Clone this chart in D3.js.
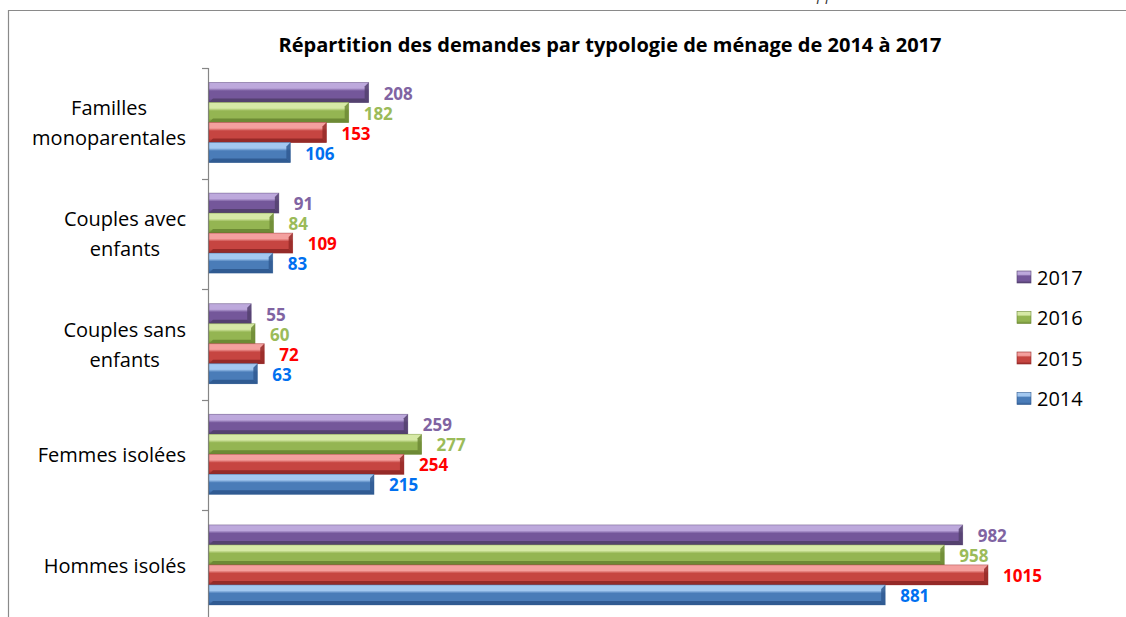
<!DOCTYPE html>
<html>
<head>
<meta charset="utf-8">
<script src="https://cdn.jsdelivr.net/npm/d3@7"></script>
<style>
  body { margin: 0; background: #fff; }
  svg { display: block; font-family: "Open Sans", sans-serif; }
</style>
</head>
<body>
<div id="chart"></div>
<script>
// data
const categories = ['Familles monoparentales', 'Couples avec enfants', 'Couples sans enfants', 'Femmes isolées', 'Hommes isolés'];
const categoryLines = [['Familles', 'monoparentales'], ['Couples avec', 'enfants'], ['Couples sans', 'enfants'], ['Femmes isolées'], ['Hommes isolés']];
const years = ['2017', '2016', '2015', '2014'];
const values2017 = [208, 91, 55, 259, 982];
const values2016 = [182, 84, 60, 277, 958];
const values2015 = [153, 109, 72, 254, 1015];
const values2014 = [106, 83, 63, 215, 881];
const seriesValues = { '2017': values2017, '2016': values2016, '2015': values2015, '2014': values2014 };

// colours: [light, body, dark, label]
const palette = {
  '2017': ['#bda8dc', '#74579a', '#54416f', '#8064a2'],
  '2016': ['#d6e9a6', '#94b552', '#6d8a35', '#9bbb59'],
  '2015': ['#f4a09e', '#c64541', '#952a28', '#ff0000'],
  '2014': ['#a3c8f0', '#4a7cb8', '#305b92', '#0070f0']
};

const width = 1126, height = 617;
const svg = d3.select('#chart').append('svg')
    .attr('width', width)
    .attr('height', height);

const x = d3.scaleLinear().domain([0, 1200]).range([209, 1130]);
const y = d3.scaleBand().domain(categories).range([68, 621]).padding(0);
const yInner = d3.scaleBand().domain(years).range([14.5, 94.5]).padding(0);

// gradients
const defs = svg.append('defs');
years.forEach(yr => {
  const c = palette[yr];
  const g = defs.append('linearGradient')
      .attr('id', 'grad' + yr)
      .attr('x1', 0).attr('y1', 0).attr('x2', 0).attr('y2', 1);
  g.append('stop').attr('offset', '0%').attr('stop-color', c[0]);
  g.append('stop').attr('offset', '28%').attr('stop-color', c[0]);
  g.append('stop').attr('offset', '42%').attr('stop-color', c[1]);
  g.append('stop').attr('offset', '80%').attr('stop-color', c[1]);
  g.append('stop').attr('offset', '100%').attr('stop-color', c[2]);
});

// border of chart area
svg.append('path')
    .attr('d', 'M8.5,617 V10.5 H1126')
    .attr('fill', 'none')
    .attr('stroke', '#8a8a8a')
    .attr('stroke-width', 1.2);

// text fragment cut at top of page
svg.append('text')
    .attr('x', 817)
    .attr('y', 0)
    .attr('font-size', 15)
    .attr('font-style', 'italic')
    .attr('fill', '#333')
    .text('pp');

// title
svg.append('text')
    .attr('x', 610)
    .attr('y', 52)
    .attr('text-anchor', 'middle')
    .attr('font-size', 20)
    .attr('font-weight', 'bold')
    .attr('fill', '#000')
    .text('Répartition des demandes par typologie de ménage de 2014 à 2017');

// axis
const axis = svg.append('g').attr('stroke', '#868686').attr('stroke-width', 1.2);
axis.append('line')
    .attr('x1', 208.5).attr('x2', 208.5)
    .attr('y1', y.range()[0]).attr('y2', height);
const tickYs = categories.map(c => y(c)).concat([y(categories[categories.length - 1]) + y.bandwidth()]);
axis.selectAll('line.tick')
    .data(tickYs)
  .join('line')
    .attr('class', 'tick')
    .attr('x1', 202).attr('x2', 208.5)
    .attr('y1', d => Math.round(d) + 0.5)
    .attr('y2', d => Math.round(d) + 0.5);

// category labels
const catG = svg.append('g')
    .selectAll('g')
    .data(categories)
  .join('g');

catG.each(function(c, i) {
  const lines = categoryLines[i];
  const g = d3.select(this);
  const cy = y(c) + y.bandwidth() / 2;
  const texts = g.selectAll('text')
      .data(lines)
    .join('text')
      .attr('font-size', 20)
      .attr('fill', '#000')
      .attr('text-anchor', 'middle')
      .attr('y', (d, j) => cy + 7 + (j - (lines.length - 1) / 2) * 30)
      .text(d => d);
  let maxW = 0;
  texts.each(function() { maxW = Math.max(maxW, this.getComputedTextLength()); });
  texts.attr('x', 186 - maxW / 2);
});

// bars
const bev = 4;
const bars = [];
categories.forEach((c, i) => {
  years.forEach(yr => {
    bars.push({ cat: c, year: yr, value: seriesValues[yr][i] });
  });
});

const barG = svg.append('g')
    .selectAll('g')
    .data(bars)
  .join('g')
    .attr('transform', d => `translate(0,${y(d.cat) + yInner(d.year)})`);

barG.append('rect')
    .attr('x', x(0))
    .attr('y', 0)
    .attr('width', d => x(d.value) - x(0))
    .attr('height', yInner.bandwidth())
    .attr('fill', d => `url(#grad${d.year})`);

// top bevel highlight
barG.append('path')
    .attr('d', d => {
      const x0 = x(0), x1 = x(d.value);
      return `M${x0},0 H${x1} L${x1 - bev},${bev} H${x0 + bev} Z`;
    })
    .attr('fill', d => palette[d.year][0])
    .attr('opacity', 0.9);

// bottom bevel shade
barG.append('path')
    .attr('d', d => {
      const x0 = x(0), x1 = x(d.value), h = yInner.bandwidth();
      return `M${x0},${h} H${x1} L${x1 - bev},${h - bev} H${x0 + bev} Z`;
    })
    .attr('fill', d => palette[d.year][2]);

// right end bevel
barG.append('path')
    .attr('d', d => {
      const x1 = x(d.value), h = yInner.bandwidth();
      return `M${x1},0 V${h} L${x1 - bev},${h - bev} V${bev} Z`;
    })
    .attr('fill', d => palette[d.year][2])
    .attr('opacity', 0.85);

// outline
barG.append('rect')
    .attr('x', x(0))
    .attr('y', 0)
    .attr('width', d => x(d.value) - x(0))
    .attr('height', yInner.bandwidth())
    .attr('fill', 'none')
    .attr('stroke', d => palette[d.year][2])
    .attr('stroke-opacity', 0.5)
    .attr('stroke-width', 0.8);

// value labels
barG.append('text')
    .attr('x', d => x(d.value) + 15)
    .attr('y', yInner.bandwidth() / 2 + 7)
    .attr('font-size', 17)
    .attr('font-weight', 'bold')
    .attr('fill', d => palette[d.year][3])
    .text(d => d.value);

// legend
const legend = svg.append('g')
    .selectAll('g')
    .data(years)
  .join('g')
    .attr('transform', (d, i) => `translate(1017,${277 + i * 40.5})`);

legend.append('rect')
    .attr('x', 0)
    .attr('y', -6)
    .attr('width', 14)
    .attr('height', 12)
    .attr('fill', d => `url(#grad${d})`)
    .attr('stroke', d => palette[d][2])
    .attr('stroke-width', 0.6);

legend.append('text')
    .attr('x', 20)
    .attr('y', 7.5)
    .attr('font-size', 20)
    .attr('fill', '#000')
    .text(d => d);
</script>
</body>
</html>
